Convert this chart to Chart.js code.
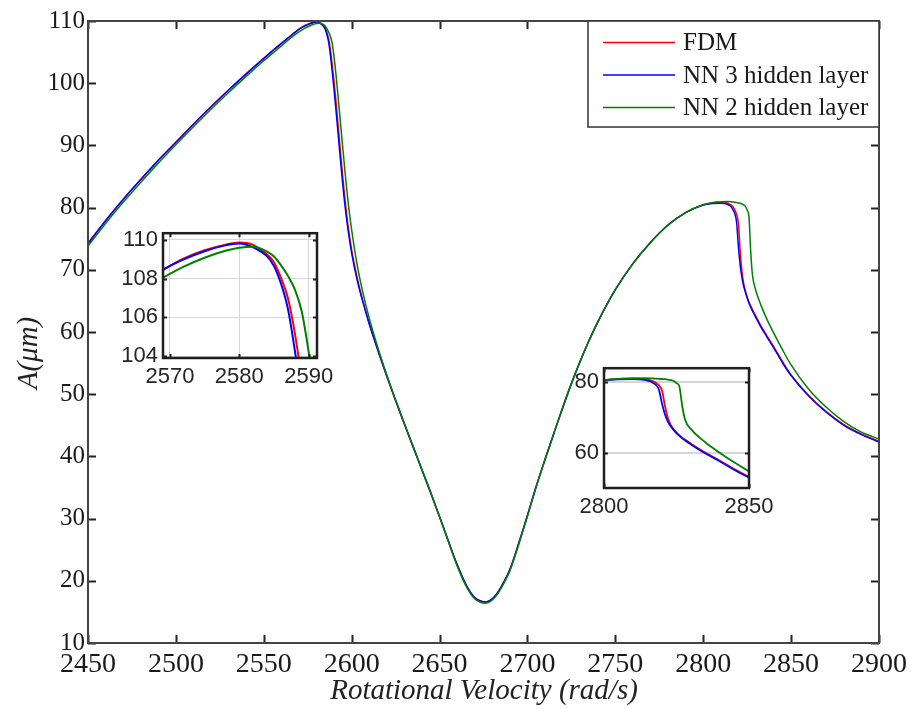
<!DOCTYPE html>
<html>
<head>
<meta charset="utf-8">
<script src="https://cdn.jsdelivr.net/npm/chart.js@4.4.1/dist/chart.umd.min.js"></script>
<style>
	html, body { margin: 0; padding: 0; background: #fff; }
	#wrap { position: relative; width: 915px; height: 709px; }
	#wrap canvas { position: absolute; }
</style>
</head>
<body>
<div id="wrap">
	<canvas id="main" width="915" height="709" style="left:0;top:0"></canvas>
	<canvas id="zoomPeak" width="240" height="180" style="left:110px;top:215px"></canvas>
	<canvas id="zoomJump" width="220" height="175" style="left:560px;top:350px"></canvas>
</div>
<script>
// rotational velocity (rad/s), shared by all three curves
const velocity = [
	2450, 2460, 2470, 2480, 2490, 2500, 2510, 2520, 2530, 2540,
	2550, 2560, 2565, 2569, 2572, 2575, 2578, 2580, 2582, 2584,
	2585, 2586, 2587, 2588, 2589, 2590, 2591, 2592, 2593, 2594,
	2596, 2598, 2600, 2603, 2606, 2610, 2615, 2620, 2625, 2630,
	2635, 2640, 2645, 2650, 2655, 2660, 2665, 2670, 2673, 2676,
	2679, 2682, 2685, 2690, 2695, 2700, 2705, 2710, 2715, 2720,
	2725, 2730, 2735, 2740, 2750, 2760, 2770, 2780, 2790, 2800,
	2805, 2810, 2814, 2816, 2817, 2818, 2819, 2820, 2821, 2822,
	2823, 2824, 2825, 2826, 2827, 2828, 2830, 2833, 2836, 2840,
	2845, 2850, 2860, 2870, 2880, 2890, 2900,
];

// amplitude A (um)
const fdm = [
	74.3, 77.9, 81.3, 84.5, 87.6, 90.5, 93.4, 96.2, 98.9, 101.5,
	104.0, 106.4, 107.55, 108.45, 109.05, 109.47, 109.76, 109.87, 109.75, 109.25,
	108.85, 108.05, 107.0, 105.2, 102.8, 100.2, 97.3, 94.2, 91.0, 87.8,
	81.8, 77.0, 73.2, 68.9, 65.4, 61.4, 57.0, 52.9, 49.0, 45.2,
	41.5, 37.8, 34.1, 30.3, 26.4, 22.6, 19.4, 17.3, 16.8, 16.6,
	16.9, 17.7, 19.0, 21.8, 26.0, 30.5, 35.2, 39.5, 43.7, 47.8,
	51.7, 55.3, 58.6, 61.6, 66.8, 71.0, 74.4, 77.2, 79.2, 80.45,
	80.8, 80.9, 80.7, 80.4, 80.1, 79.6, 78.9, 77.5, 73.2, 69.8,
	67.8, 66.6, 65.6, 64.8, 64.2, 63.6, 62.5, 60.9, 59.5, 57.7,
	55.3, 53.1, 49.8, 47.2, 45.1, 43.6, 42.4,
];

const nn3 = [
	74.2, 77.9, 81.3, 84.5, 87.6, 90.5, 93.4, 96.2, 98.9, 101.5,
	104.0, 106.4, 107.55, 108.47, 109.0, 109.42, 109.72, 109.82, 109.62, 109.15,
	108.65, 107.75, 106.45, 104.3, 101.7, 98.9, 95.9, 92.8, 89.6, 86.5,
	80.8, 76.3, 72.7, 68.5, 65.2, 61.3, 57.0, 52.9, 49.0, 45.2,
	41.5, 37.8, 34.1, 30.3, 26.4, 22.6, 19.4, 17.3, 16.8, 16.6,
	16.9, 17.7, 19.0, 21.8, 26.0, 30.5, 35.2, 39.5, 43.7, 47.8,
	51.7, 55.3, 58.6, 61.6, 66.8, 71.0, 74.4, 77.2, 79.2, 80.4,
	80.65, 80.7, 80.5, 80.1, 79.6, 79.0, 77.6, 73.8, 70.8, 68.8,
	67.4, 66.4, 65.5, 64.7, 64.0, 63.4, 62.3, 60.7, 59.3, 57.5,
	55.1, 53.0, 49.7, 47.1, 45.0, 43.5, 42.3,
];

const nn2 = [
	73.8, 77.45, 80.85, 84.05, 87.15, 90.1, 93.0, 95.8, 98.5, 101.1,
	103.6, 106.0, 107.2, 108.05, 108.62, 109.08, 109.44, 109.6, 109.65, 109.4,
	109.15, 108.7, 108.15, 107.45, 106.3, 104.2, 101.6, 98.7, 95.6, 92.5,
	86.4, 80.8, 76.4, 71.0, 66.8, 62.2, 57.4, 53.1, 49.1, 45.3,
	41.6, 37.9, 34.2, 30.3, 26.3, 22.4, 19.2, 17.1, 16.6, 16.4,
	16.7, 17.5, 18.8, 21.6, 25.8, 30.4, 35.1, 39.5, 43.7, 47.8,
	51.7, 55.3, 58.6, 61.6, 66.8, 71.0, 74.4, 77.2, 79.2, 80.45,
	80.8, 80.95, 81.0, 80.95, 80.9, 80.85, 80.8, 80.75, 80.7, 80.6,
	80.45, 80.2, 79.6, 78.6, 73.0, 69.2, 66.6, 64.2, 62.2, 59.9,
	57.2, 54.7, 50.8, 47.9, 45.6, 43.9, 42.8,
];

const seriesLabels = ['FDM', 'NN 3 hidden layer', 'NN 2 hidden layer'];
const seriesColors = ['#ff0000', '#0000ff', '#008000'];

const mainXTicks = [2450, 2500, 2550, 2600, 2650, 2700, 2750, 2800, 2850, 2900];
const mainYTicks = [10, 20, 30, 40, 50, 60, 70, 80, 90, 100, 110];
const peakXTicks = [2570, 2580, 2590];
const peakYTicks = [104, 106, 108, 110];
const jumpXTicks = [2800, 2850];
const jumpYTicks = [60, 80];

const serif = "'Liberation Serif', 'Times New Roman', serif";
const sans = "'Liberation Sans', Arial, sans-serif";

function toPoints(values) {
	return velocity.map((v, i) => ({ x: v, y: values[i] }));
}

function makeDatasets(width) {
	return [fdm, nn3, nn2].map((values, i) => ({
		label: seriesLabels[i],
		data: toPoints(values),
		borderColor: seriesColors[i],
		borderWidth: width,
		pointRadius: 0,
		cubicInterpolationMode: 'monotone',
		order: 2 - i,
		clip: 0,
	}));
}

function fixedTicks(list) {
	return (scale) => {
		scale.ticks = list.map((v) => ({ value: v }));
	};
}

// box around the plot area with ticks pointing inward on all four sides
const boxFrame = {
	id: 'boxFrame',
	beforeDraw(chart, args, opts) {
		if (!opts.fill) return;
		const { ctx, chartArea: a } = chart;
		ctx.save();
		ctx.fillStyle = opts.fill;
		ctx.fillRect(a.left, a.top, a.right - a.left, a.bottom - a.top);
		ctx.restore();
	},
	afterDraw(chart, args, opts) {
		const { ctx, chartArea: a, scales } = chart;
		const len = opts.tickLength;
		ctx.save();
		ctx.strokeStyle = opts.tickColor;
		ctx.lineWidth = opts.tickWidth;
		ctx.beginPath();
		scales.x.ticks.forEach((t) => {
			const px = Math.round(scales.x.getPixelForValue(t.value)) + 0.5;
			ctx.moveTo(px, a.bottom);
			ctx.lineTo(px, a.bottom - len);
			ctx.moveTo(px, a.top);
			ctx.lineTo(px, a.top + len);
		});
		scales.y.ticks.forEach((t) => {
			const py = Math.round(scales.y.getPixelForValue(t.value)) + 0.5;
			ctx.moveTo(a.left, py);
			ctx.lineTo(a.left + len, py);
			ctx.moveTo(a.right, py);
			ctx.lineTo(a.right - len, py);
		});
		ctx.stroke();
		ctx.strokeStyle = opts.color;
		ctx.lineWidth = opts.width;
		ctx.strokeRect(a.left, a.top, a.right - a.left, a.bottom - a.top);
		ctx.restore();
	},
};

// legend box in the upper right corner and the two axis titles
const curveLegend = {
	id: 'curveLegend',
	afterDraw(chart) {
		const { ctx, chartArea: a } = chart;
		const boxLeft = 588;
		const boxBottom = 127;
		ctx.save();
		ctx.fillStyle = '#fff';
		ctx.fillRect(boxLeft, a.top, a.right - boxLeft, boxBottom - a.top);
		ctx.strokeStyle = '#333';
		ctx.lineWidth = 1.5;
		ctx.strokeRect(boxLeft, a.top, a.right - boxLeft, boxBottom - a.top);

		ctx.font = `25px ${serif}`;
		ctx.textBaseline = 'middle';
		ctx.textAlign = 'left';
		chart.data.datasets.forEach((ds, i) => {
			const y = 42.5 + i * 32.5;
			ctx.strokeStyle = ds.borderColor;
			ctx.lineWidth = 1.5;
			ctx.beginPath();
			ctx.moveTo(603, y);
			ctx.lineTo(675, y);
			ctx.stroke();
			ctx.fillStyle = '#1a1a1a';
			ctx.fillText(ds.label, 683, y + 1);
		});

		ctx.fillStyle = '#222';
		ctx.font = `italic 29px ${serif}`;
		ctx.textAlign = 'center';
		ctx.fillText('Rotational Velocity (rad/s)', 484, 691);

		ctx.translate(29, 353);
		ctx.rotate(-Math.PI / 2);
		ctx.fillText('A(\u03bcm)', 0, 0);
		ctx.restore();
	},
};

new Chart(document.getElementById('main').getContext('2d'), {
	type: 'line',
	data: { datasets: makeDatasets(1.5) },
	plugins: [boxFrame, curveLegend],
	options: {
		responsive: false,
		animation: false,
		devicePixelRatio: 1,
		layout: { padding: { top: 21, right: 36, left: 0, bottom: 0 } },
		plugins: {
			legend: { display: false },
			tooltip: { enabled: false },
			boxFrame: { color: '#444', width: 2, tickColor: '#222', tickWidth: 2, tickLength: 8 },
		},
		scales: {
			x: {
				type: 'linear',
				min: 2450,
				max: 2900,
				afterBuildTicks: fixedTicks(mainXTicks),
				afterFit: (s) => { s.height = 66; },
				grid: { display: false, drawTicks: false },
				border: { display: false },
				ticks: {
					color: '#1a1a1a',
					font: { family: serif, size: 28 },
					padding: 5,
					maxRotation: 0,
					autoSkip: false,
					callback: (v) => String(v),
				},
			},
			y: {
				type: 'linear',
				min: 10,
				max: 110,
				afterBuildTicks: fixedTicks(mainYTicks),
				afterFit: (s) => { s.width = 88; },
				grid: { display: false, drawTicks: false },
				border: { display: false },
				ticks: {
					color: '#1a1a1a',
					font: { family: serif, size: 25 },
					padding: 3,
					autoSkip: false,
					callback: (v) => String(v),
				},
			},
		},
	},
});

function insetOptions(cfg) {
	return {
		responsive: false,
		animation: false,
		devicePixelRatio: 1,
		layout: { padding: { top: cfg.top, right: cfg.right, left: 0, bottom: 0 } },
		plugins: {
			legend: { display: false },
			tooltip: { enabled: false },
			boxFrame: { fill: '#fff', color: '#1f1f1f', width: 2.5, tickColor: '#1f1f1f', tickWidth: 2, tickLength: 4 },
		},
		scales: {
			x: {
				type: 'linear',
				min: cfg.xMin,
				max: cfg.xMax,
				afterBuildTicks: fixedTicks(cfg.xTicks),
				afterFit: (s) => { s.height = cfg.xHeight; },
				grid: { display: cfg.xGrid, color: '#d6d6d6', lineWidth: 1, drawTicks: false },
				border: { display: false },
				ticks: {
					color: '#262626',
					font: { family: sans, size: 22 },
					padding: 6,
					maxRotation: 0,
					autoSkip: false,
					callback: (v) => String(v),
				},
			},
			y: {
				type: 'linear',
				min: cfg.yMin,
				max: cfg.yMax,
				afterBuildTicks: fixedTicks(cfg.yTicks),
				afterFit: (s) => { s.width = cfg.yWidth; },
				grid: { color: '#d6d6d6', lineWidth: cfg.yGridWidth, drawTicks: false },
				border: { display: false },
				ticks: {
					color: '#262626',
					font: { family: sans, size: 22 },
					padding: 5,
					autoSkip: false,
					callback: (v) => String(v),
				},
			},
		},
	};
}

// close-up of the first resonance peak
new Chart(document.getElementById('zoomPeak').getContext('2d'), {
	type: 'line',
	data: { datasets: makeDatasets(2) },
	plugins: [boxFrame],
	options: insetOptions({
		top: 10, right: 33, xHeight: 37, yWidth: 53,
		xMin: 2569, xMax: 2591.2, yMin: 103.9, yMax: 110.35,
		xTicks: peakXTicks, yTicks: peakYTicks, xGrid: true, yGridWidth: 1,
	}),
});

// close-up of the jump after the second peak
new Chart(document.getElementById('zoomJump').getContext('2d'), {
	type: 'line',
	data: { datasets: makeDatasets(1.8) },
	plugins: [boxFrame],
	options: insetOptions({
		top: 14, right: 31, xHeight: 37, yWidth: 44,
		xMin: 2800, xMax: 2850, yMin: 50, yMax: 83.8,
		xTicks: jumpXTicks, yTicks: jumpYTicks, xGrid: false, yGridWidth: 2,
	}),
});
</script>
</body>
</html>
